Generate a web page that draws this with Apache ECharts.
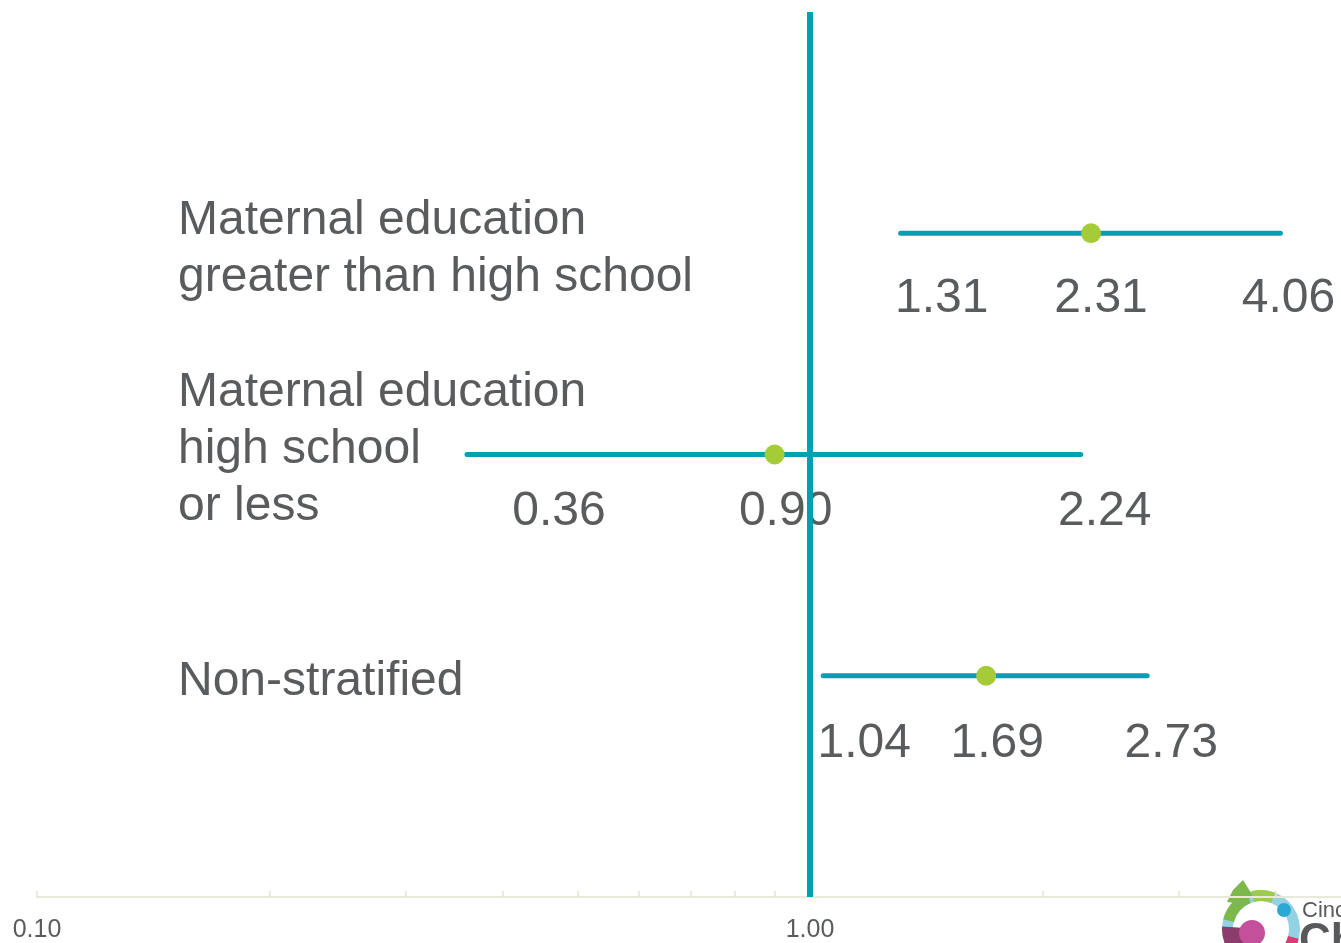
<!DOCTYPE html>
<html>
<head>
<meta charset="utf-8">
<title>Odds ratios by maternal education</title>
<script src="https://cdn.jsdelivr.net/npm/echarts@6/dist/echarts.min.js"></script>
<style>
  html, body { margin: 0; padding: 0; background: #ffffff; }
  #chart { width: 1341px; height: 943px; }
</style>
</head>
<body>
<div id="chart"></div>
<script>
// Row names, top to bottom
const categories = [
  'Maternal education\ngreater than high school',
  'Maternal education\nhigh school\nor less',
  'Non-stratified'
];
// Odds ratio with 95% confidence interval for each row
const lower    = [1.31, 0.36, 1.04];
const estimate = [2.31, 0.90, 1.69];
const upper    = [4.06, 2.24, 2.73];

// Axis tick values (log scale) and labelled ticks
const tickValues  = [0.1, 0.2, 0.3, 0.4, 0.5, 0.6, 0.7, 0.8, 0.9, 1, 2, 3, 4, 5, 6, 7, 8, 9, 10];
const labelValues = [0.1, 1];
const referenceValue = 1;

// Label nudges in pixels: [lower dx, estimate dx, upper dx, number dy, name dy]
const labelNudge = [
  [41, 10, 8, 66, 16],
  [92, 11, 24, 57, -5],
  [41, 11, 24, 68, 6]
];

const TEAL = '#03a0b4';
const GREEN = '#a5cc38';
const TEXT = '#595b5d';
const FONT = '"Liberation Sans", Arial, Helvetica, sans-serif';

// y axis slots: blank at bottom and top so rows sit on quarter lines
const ySlots = [''].concat(categories.slice().reverse()).concat(['']);

const rows = categories.map((c, i) => [lower[i], estimate[i], upper[i], c]);

const chart = echarts.init(document.getElementById('chart'), null, { renderer: 'canvas' });

chart.setOption({
  animation: false,
  backgroundColor: '#ffffff',
  // the plot runs two full decades (0.1 to 10); the upper part lies past the right edge
  grid: { left: 37, width: 1546, top: 12, bottom: 46, containLabel: false, outerBoundsMode: 'none' },
  xAxis: {
    type: 'log',
    logBase: 10,
    min: 0.1,
    max: 10,
    axisLine: { show: true, lineStyle: { color: '#ebe8dc', width: 2 } },
    axisTick: {
      show: true,
      inside: true,
      length: 6,
      customValues: tickValues,
      lineStyle: { color: '#e6e2d4', width: 1.5 }
    },
    minorTick: { show: false },
    splitLine: { show: false },
    axisLabel: {
      customValues: labelValues,
      formatter: v => Number(v).toFixed(2),
      color: TEXT,
      fontFamily: FONT,
      fontSize: 25,
      margin: 21
    }
  },
  yAxis: {
    type: 'category',
    data: ySlots,
    boundaryGap: false,
    show: false
  },
  series: [
    {
      type: 'custom',
      name: 'Odds ratio',
      clip: false,
      z: 2,
      encode: { x: [0, 1, 2], y: 3 },
      data: rows,
      renderItem(params, api) {
        const i = params.dataIndex;
        const yv = api.value(3);
        const lo = api.coord([api.value(0), yv]);
        const mid = api.coord([api.value(1), yv]);
        const hi = api.coord([api.value(2), yv]);
        const n = labelNudge[i];
        const numStyle = {
          fill: TEXT,
          font: '48px ' + FONT,
          align: 'center',
          verticalAlign: 'middle'
        };
        return {
          type: 'group',
          children: [
            {
              type: 'line',
              shape: { x1: lo[0], y1: lo[1], x2: hi[0], y2: hi[1] },
              style: { stroke: TEAL, lineWidth: 5, lineCap: 'round' }
            },
            {
              type: 'circle',
              shape: { cx: mid[0], cy: mid[1], r: 10 },
              style: { fill: GREEN }
            },
            {
              type: 'text',
              x: lo[0] + n[0], y: lo[1] + n[3],
              style: Object.assign({ text: lower[i].toFixed(2) }, numStyle)
            },
            {
              type: 'text',
              x: mid[0] + n[1], y: mid[1] + n[3],
              style: Object.assign({ text: estimate[i].toFixed(2) }, numStyle)
            },
            {
              type: 'text',
              x: hi[0] + n[2], y: hi[1] + n[3],
              style: Object.assign({ text: upper[i].toFixed(2) }, numStyle)
            },
            {
              type: 'text',
              x: params.coordSys.x + 141, y: mid[1] + n[4],
              style: {
                text: categories[i],
                fill: TEXT,
                font: '48px ' + FONT,
                lineHeight: 57,
                align: 'left',
                verticalAlign: 'middle'
              }
            }
          ]
        };
      }
    },
    {
      // Reference line at odds ratio = 1
      type: 'line',
      name: 'Reference',
      data: [],
      z: 5,
      markLine: {
        silent: true,
        symbol: ['none', 'none'],
        label: { show: false },
        lineStyle: { color: TEAL, width: 6, type: 'solid' },
        data: [{ xAxis: referenceValue }]
      }
    }
  ],
  graphic: [
    {
      type: 'group',
      left: 1222,
      top: 880,
      silent: true,
      children: [
        { type: 'ring', shape: { cx: 40, cy: 51, r: 39, r0: 28 }, style: { fill: '#93d2e3' } },
        { type: 'sector', shape: { cx: 40, cy: 51, r: 39, r0: 28, startAngle: Math.PI * 1.08, endAngle: Math.PI * 1.38 }, style: { fill: '#7cb94a' } },
        { type: 'polygon', shape: { points: [[22, 2], [32, 18], [22, 26], [6, 24], [12, 12]] }, style: { fill: '#7cb94a' } },
        { type: 'sector', shape: { cx: 40, cy: 51, r: 39, r0: 28, startAngle: Math.PI * 1.42, endAngle: Math.PI * 1.62 }, style: { fill: '#9ccc4a' } },
        { type: 'sector', shape: { cx: 40, cy: 51, r: 39, r0: 16, startAngle: Math.PI * 0.62, endAngle: Math.PI * 1.02 }, style: { fill: '#8b3b6c' } },
        { type: 'sector', shape: { cx: 40, cy: 51, r: 39, r0: 28, startAngle: Math.PI * 0.08, endAngle: Math.PI * 0.4 }, style: { fill: '#d93b73' } },
        { type: 'circle', shape: { cx: 31, cy: 55, r: 13 }, style: { fill: '#c4509b' } },
        { type: 'circle', shape: { cx: 63, cy: 32, r: 7 }, style: { fill: '#2aa9d5' } },
        { type: 'text', x: 81, y: 22, style: { text: 'Cinc', fill: '#58595b', font: '22px ' + FONT } },
        { type: 'text', x: 78, y: 42, style: { text: 'Ch', fill: '#58595b', font: 'bold 44px ' + FONT } }
      ]
    }
  ]
});
</script>
</body>
</html>
